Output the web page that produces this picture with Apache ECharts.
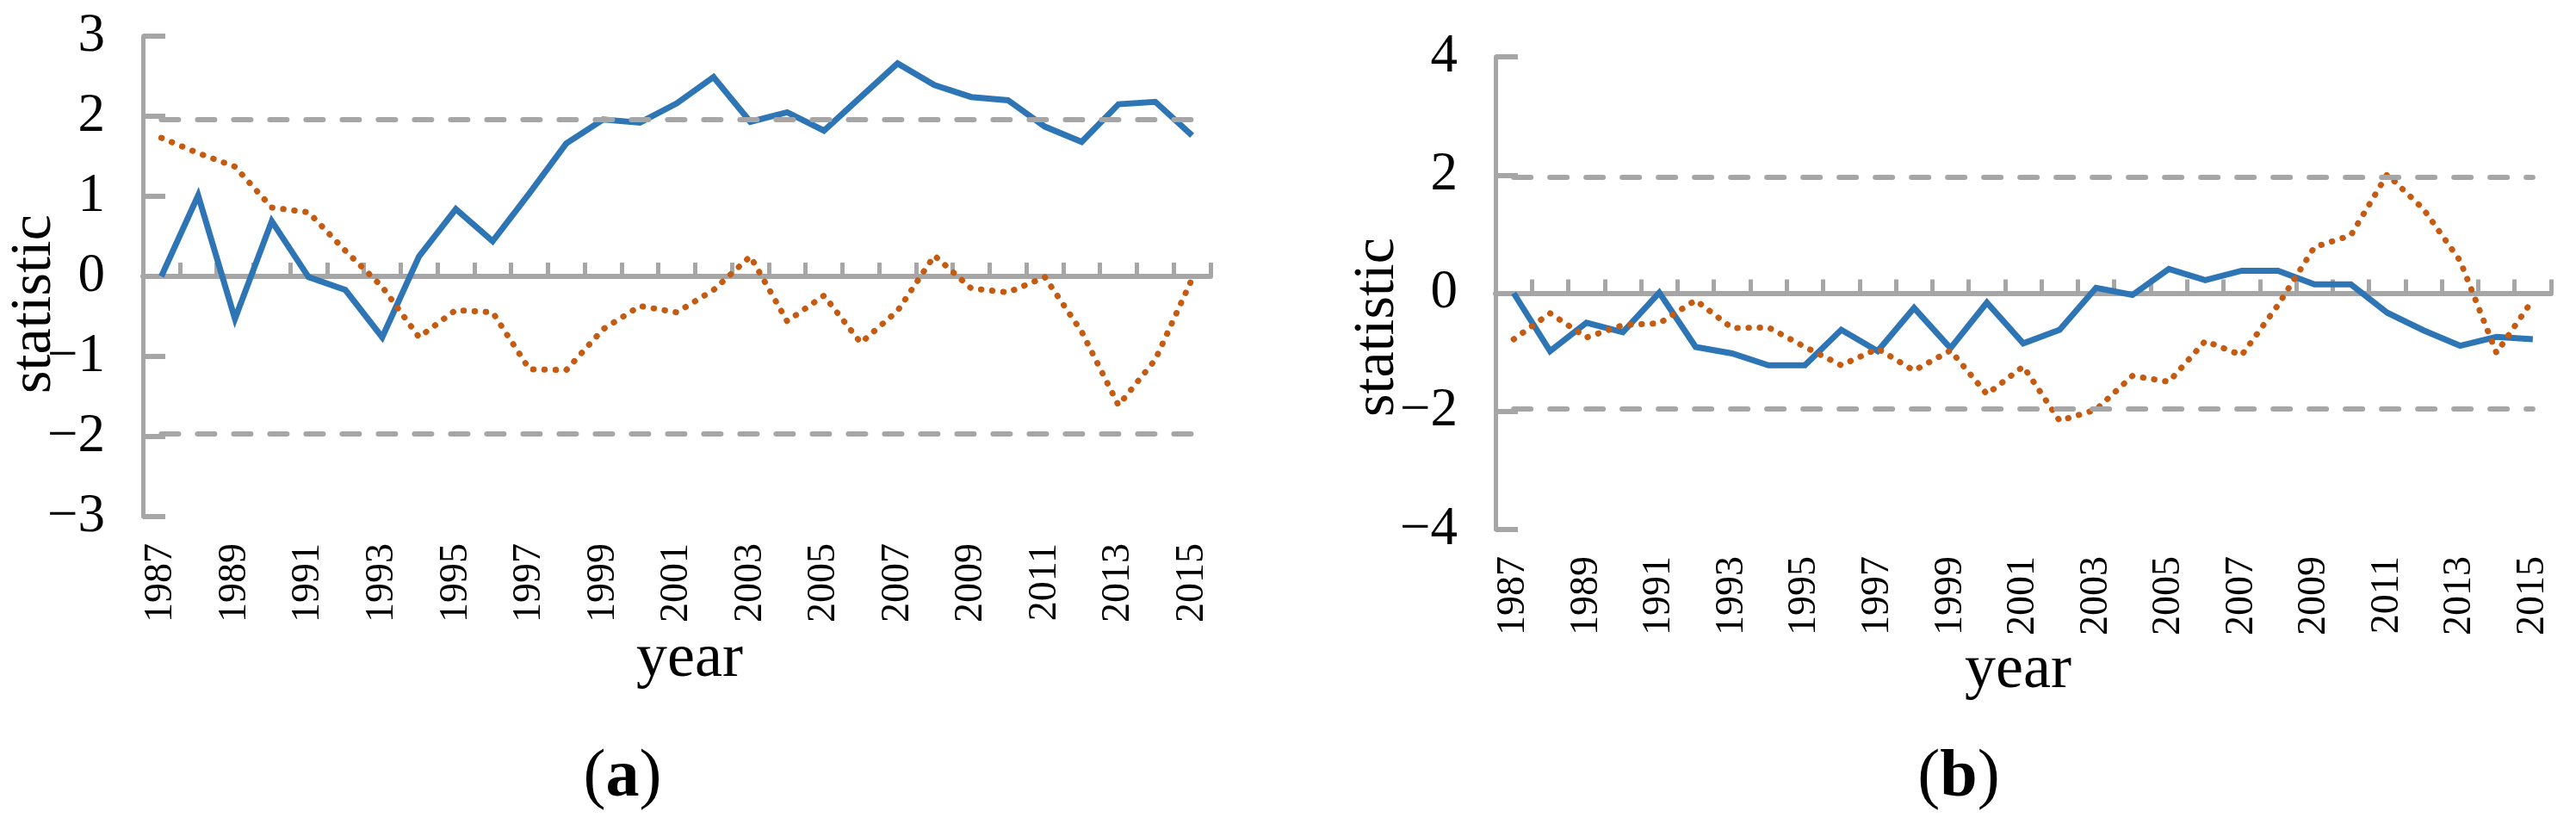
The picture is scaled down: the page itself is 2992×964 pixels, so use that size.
<!DOCTYPE html>
<html>
<head>
<meta charset="utf-8">
<script src="https://cdn.jsdelivr.net/npm/echarts@6/dist/echarts.min.js"></script>
<style>
html,body{margin:0;padding:0;background:#fff;}
#c{width:2992px;height:964px;}
</style>
</head>
<body>
<div id="c"></div>
<script>
// ---- data ----
const years = ['1987','1988','1989','1990','1991','1992','1993','1994','1995','1996',
  '1997','1998','1999','2000','2001','2002','2003','2004','2005','2006',
  '2007','2008','2009','2010','2011','2012','2013','2014','2015'];

// panel (a)
const statA_blue = [0.00, 1.01, -0.53, 0.69, -0.01, -0.17, -0.76, 0.25, 0.84, 0.44,
  1.04, 1.66, 1.96, 1.92, 2.16, 2.49, 1.93, 2.05, 1.82, 2.24,
  2.66, 2.39, 2.24, 2.20, 1.87, 1.68, 2.15, 2.18, 1.76];
const statA_orange = [1.73, 1.54, 1.37, 0.86, 0.80, 0.32, -0.13, -0.76, -0.42, -0.45,
  -1.16, -1.17, -0.66, -0.37, -0.45, -0.17, 0.25, -0.56, -0.24, -0.83,
  -0.43, 0.26, -0.15, -0.20, -0.01, -0.69, -1.61, -1.04, -0.03];

// panel (b)
const statB_blue = [0.00, -0.98, -0.50, -0.66, 0.01, -0.91, -1.02, -1.22, -1.22, -0.62,
  -0.98, -0.25, -0.93, -0.16, -0.85, -0.62, 0.09, -0.03, 0.41, 0.22,
  0.38, 0.38, 0.15, 0.15, -0.33, -0.63, -0.89, -0.74, -0.78];
const statB_orange = [-0.78, -0.34, -0.75, -0.54, -0.51, -0.12, -0.59, -0.58, -0.91, -1.22,
  -0.94, -1.31, -0.97, -1.71, -1.24, -2.16, -1.97, -1.40, -1.50, -0.81,
  -1.05, -0.20, 0.78, 0.98, 2.01, 1.42, 0.55, -1.01, -0.11];

const criticalValues = [1.96, -1.96];

const yTicksA = {min: -3, max: 3, interval: 1};
const yTicksB = {min: -4, max: 4, interval: 2};

const texts = {yName: 'statistic', xName: 'year', panelA: 'a', panelB: 'b'};

// ---- style ----
const FONT = '"Liberation Serif", "Times New Roman", serif';
const BLUE = '#2E75B6';
const ORANGE = '#C55A11';
const GRAY = '#A6A6A6';

const grids = [
  {left: 166, top: 42, width: 1240, height: 558},
  {left: 1737, top: 66, width: 1226, height: 549}
];

function fmtNum(v){ return String(v).replace('-', '\u2212'); }

const xAxes = [];
const yAxes = [];
const series = [];
[0,1].forEach(function(g){
  xAxes.push({
    gridIndex: g, type: 'category', data: years, boundaryGap: true, position: 'bottom',
    axisLine: {show: true, onZero: true, lineStyle: {color: GRAY, width: 6}},
    axisTick: {show: true, inside: true, length: 16, interval: 0, lineStyle: {color: GRAY, width: 5}},
    axisLabel: {show: false},
    splitLine: {show: false}
  });
  xAxes.push({
    gridIndex: g, type: 'category', data: years, boundaryGap: true, position: 'bottom',
    axisLine: {show: false, onZero: false},
    axisTick: {show: false},
    axisLabel: {show: true, interval: 1, rotate: 90, margin: 31, fontSize: 46,
      fontFamily: FONT, color: '#000'},
    splitLine: {show: false}
  });
  const t = g === 0 ? yTicksA : yTicksB;
  yAxes.push({
    gridIndex: g, type: 'value', min: t.min, max: t.max, interval: t.interval,
    axisLine: {show: true, onZero: false, lineStyle: {color: GRAY, width: 5}},
    axisTick: {show: true, inside: true, length: 26, lineStyle: {color: GRAY, width: 6}},
    axisLabel: {margin: 44, fontSize: 63, fontFamily: FONT, color: '#000', formatter: fmtNum},
    splitLine: {show: false}
  });
  const blue = g === 0 ? statA_blue : statB_blue;
  const orange = g === 0 ? statA_orange : statB_orange;
  series.push({
    type: 'line', xAxisIndex: g*2, yAxisIndex: g, data: blue,
    symbol: 'none', showSymbol: false, z: 2,
    lineStyle: {color: BLUE, width: 7, join: 'miter'},
    emphasis: {disabled: true}, silent: true
  });
  series.push({
    type: 'line', xAxisIndex: g*2, yAxisIndex: g, data: orange,
    symbol: 'none', showSymbol: false, z: 3,
    lineStyle: {color: ORANGE, width: 7, type: [0.5, 12.5], cap: 'round'},
    emphasis: {disabled: true}, silent: true,
    markLine: {
      silent: true, symbol: ['none','none'], label: {show: false},
      lineStyle: {color: GRAY, width: 6, type: [20, 22], cap: 'round'},
      emphasis: {disabled: true},
      data: criticalValues.map(function(c){
        return [{coord: [years[0], c]}, {coord: [years[years.length-1], c]}];
      })
    }
  });
});

const graphic = [
  {type: 'text', x: 40, y: 353, rotation: Math.PI/2,
   style: {text: texts.yName, font: '68px ' + FONT, fill: '#000', align: 'center', verticalAlign: 'middle'}},
  {type: 'text', x: 1600, y: 380, rotation: Math.PI/2,
   style: {text: texts.yName, font: '68px ' + FONT, fill: '#000', align: 'center', verticalAlign: 'middle'}},
  {type: 'text', x: 801, y: 766,
   style: {text: texts.xName, font: '72px ' + FONT, fill: '#000', align: 'center', verticalAlign: 'middle'}},
  {type: 'text', x: 2344, y: 779,
   style: {text: texts.xName, font: '72px ' + FONT, fill: '#000', align: 'center', verticalAlign: 'middle'}},
  {type: 'text', x: 723, y: 904,
   style: {text: '{p|(}{b|' + texts.panelA + '}{p|)}', align: 'center', verticalAlign: 'middle',
     rich: {p: {fontSize: 78, fontFamily: FONT, color: '#000'},
            b: {fontSize: 78, fontFamily: FONT, fontWeight: 'bold', color: '#000'}}}},
  {type: 'text', x: 2275, y: 904,
   style: {text: '{p|(}{b|' + texts.panelB + '}{p|)}', align: 'center', verticalAlign: 'middle',
     rich: {p: {fontSize: 78, fontFamily: FONT, color: '#000'},
            b: {fontSize: 78, fontFamily: FONT, fontWeight: 'bold', color: '#000'}}}}
];

const chart = echarts.init(document.getElementById('c'), null, {renderer: 'canvas'});
chart.setOption({
  animation: false,
  backgroundColor: '#fff',
  grid: grids,
  xAxis: xAxes,
  yAxis: yAxes,
  series: series,
  graphic: graphic
});
</script>
</body>
</html>
